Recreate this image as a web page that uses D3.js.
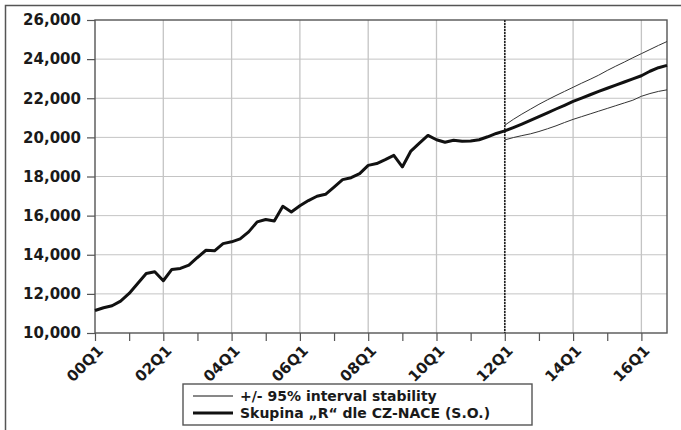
<!DOCTYPE html>
<html>
<head>
<meta charset="utf-8">
<script src="https://cdn.jsdelivr.net/npm/d3@7"></script>
<style>
  html, body { margin: 0; padding: 0; background: #fff; }
  svg { display: block; }
  text { font-family: "DejaVu Sans", "Liberation Sans", Arial, sans-serif; font-weight: bold; fill: #1a1a1a; }
</style>
</head>
<body>
<svg id="chart" width="681" height="430"></svg>
<script>
// ---- data ----
const years = [2000, 2001, 2002, 2003, 2004, 2005, 2006, 2007, 2008, 2009, 2010, 2011, 2012, 2013, 2014, 2015, 2016];
const quarters = ["Q1", "Q2", "Q3", "Q4"];
const xTickLabels = ["00Q1", "02Q1", "04Q1", "06Q1", "08Q1", "10Q1", "12Q1", "14Q1", "16Q1"];
const yTicks = [10000, 12000, 14000, 16000, 18000, 20000, 22000, 24000, 26000];
const forecastStart = "12Q1";

// Skupina „R" dle CZ-NACE (S.O.), 00Q1 .. 16Q4
const seriesR = [
  11150, 11290, 11390, 11630, 12020, 12530, 13040, 13130,
  12670, 13250, 13300, 13470, 13860, 14230, 14200, 14570,
  14660, 14810, 15170, 15680, 15800, 15730, 16480, 16190,
  16500, 16770, 16990, 17090, 17460, 17840, 17940, 18150,
  18570, 18660, 18860, 19080, 18490, 19300, 19710, 20100,
  19880, 19750, 19850, 19800, 19810, 19880, 20030, 20200,
  20330, 20500, 20680, 20870, 21060, 21250, 21450, 21640,
  21840, 22010, 22180, 22350, 22510, 22670, 22830, 22990,
  23150, 23380, 23560, 23680
];
// +/- 95% interval, 12Q1 .. 16Q4
const upper95 = [
  20620, 20920, 21190, 21440, 21690, 21920, 22140, 22350,
  22560, 22770, 22970, 23180, 23420, 23640, 23850, 24070,
  24280, 24490, 24700, 24900
];
const lower95 = [
  19870, 19990, 20090, 20180, 20300, 20440, 20590, 20760,
  20920, 21060, 21200, 21340, 21480, 21620, 21760, 21900,
  22100, 22240, 22350, 22430
];
const legendLabels = ["+/- 95% interval stability", "Skupina \u201eR\u201c dle CZ-NACE (S.O.)"];

// ---- build ----
const periods = [];
years.forEach(y => quarters.forEach(q => periods.push(String(y % 100).padStart(2, "0") + q)));
const fIdx = periods.indexOf(forecastStart);

const svg = d3.select("#chart");
const plot = { left: 95, right: 667, top: 20, bottom: 333 };

const x = d3.scalePoint().domain(periods).range([plot.left, plot.right]);
const y = d3.scaleLinear().domain([10000, 26000]).range([plot.bottom, plot.top]);

svg.append("rect").attr("width", 681).attr("height", 430).attr("fill", "#fff");

// outer frame (top and left)
svg.append("path").attr("d", "M5.5,430 L5.5,5.5 L681,5.5")
  .attr("fill", "none").attr("stroke", "#555").attr("stroke-width", 1.5);

// gridlines
const grid = svg.append("g");
grid.selectAll("line.h").data(yTicks.slice(1, -1)).join("line")
  .attr("x1", plot.left).attr("x2", plot.right)
  .attr("y1", d => y(d)).attr("y2", d => y(d))
  .attr("stroke", "#c4c4c4").attr("stroke-width", 1);
grid.selectAll("line.v").data(xTickLabels.filter(l => l !== "00Q1")).join("line")
  .attr("x1", d => x(d)).attr("x2", d => x(d))
  .attr("y1", plot.top).attr("y2", plot.bottom)
  .attr("stroke", "#c4c4c4").attr("stroke-width", 1.3);

// axes
const yAxis = d3.axisLeft(y).tickValues(yTicks).tickSize(8).tickPadding(6)
  .tickFormat(d3.format(","));
const gy = svg.append("g").attr("transform", `translate(${plot.left},0)`).call(yAxis);
gy.select(".domain").remove();
gy.selectAll(".tick line").attr("stroke", "#555").attr("stroke-width", 1.2);
gy.selectAll(".tick text").attr("font-size", 15).attr("fill", "#1a1a1a")
  .attr("font-family", "DejaVu Sans, sans-serif").attr("font-weight", "bold");

const yearTicks = periods.filter(p => p.endsWith("Q1"));
const xAxis = d3.axisBottom(x).tickValues(yearTicks).tickSize(8)
  .tickFormat(d => xTickLabels.includes(d) ? d : "");
const gx = svg.append("g").attr("transform", `translate(0,${plot.bottom})`).call(xAxis);
gx.select(".domain").remove();
gx.selectAll(".tick line").attr("stroke", "#555").attr("stroke-width", 1.2);
gx.selectAll(".tick text")
  .attr("font-size", 15).attr("fill", "#1a1a1a")
  .attr("font-family", "DejaVu Sans, sans-serif").attr("font-weight", "bold")
  .attr("text-anchor", "end")
  .attr("y", 0).attr("dy", "0.35em")
  .attr("transform", "translate(5,15) rotate(-45)");

// plot frame
svg.append("rect")
  .attr("x", plot.left).attr("y", plot.top)
  .attr("width", plot.right - plot.left).attr("height", plot.bottom - plot.top)
  .attr("fill", "none").attr("stroke", "#555").attr("stroke-width", 1.4);

// forecast divider
svg.append("line")
  .attr("x1", x(forecastStart)).attr("x2", x(forecastStart))
  .attr("y1", plot.top).attr("y2", plot.bottom)
  .attr("stroke", "#222").attr("stroke-width", 1.6).attr("stroke-dasharray", "2,1");

// series
const line = d3.line().x(d => x(d.p)).y(d => y(d.v));
const bandPeriods = periods.slice(fIdx);
[upper95, lower95].forEach(arr => {
  svg.append("path")
    .datum(arr.map((v, i) => ({ p: bandPeriods[i], v })))
    .attr("d", line).attr("fill", "none")
    .attr("stroke", "#333").attr("stroke-width", 1);
});
svg.append("path")
  .datum(seriesR.map((v, i) => ({ p: periods[i], v })))
  .attr("d", line).attr("fill", "none")
  .attr("stroke", "#111").attr("stroke-width", 3).attr("stroke-linejoin", "round");

// legend
const lg = svg.append("g").attr("transform", "translate(183,384)");
lg.append("rect").attr("width", 349).attr("height", 41)
  .attr("fill", "#fff").attr("stroke", "#555").attr("stroke-width", 1.4);
const rows = [
  { label: legendLabels[0], w: 1, yy: 12 },
  { label: legendLabels[1], w: 3, yy: 29 }
];
rows.forEach(r => {
  lg.append("line").attr("x1", 10).attr("x2", 50).attr("y1", r.yy).attr("y2", r.yy)
    .attr("stroke", "#111").attr("stroke-width", r.w);
  lg.append("text").attr("x", 57).attr("y", r.yy).attr("dy", "0.36em")
    .attr("font-size", 14).text(r.label);
});
</script>
</body>
</html>
